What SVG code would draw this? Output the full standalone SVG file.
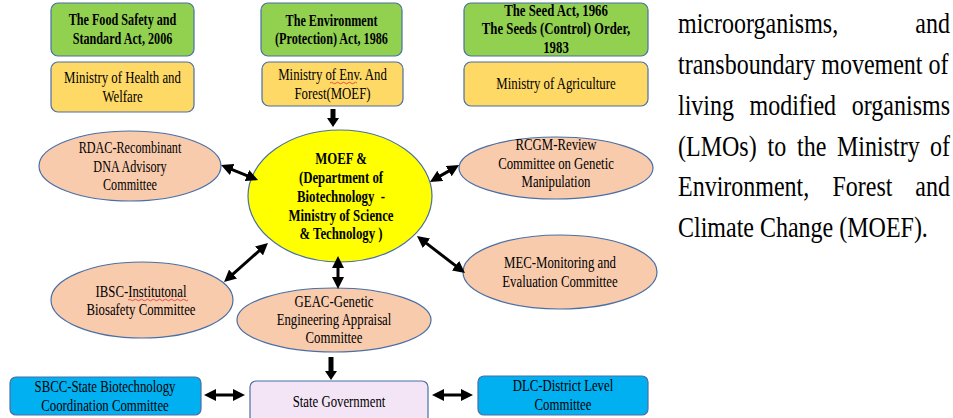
<svg xmlns="http://www.w3.org/2000/svg" width="953" height="418" viewBox="0 0 953 418">
<style>
.box{stroke:#4A6FA5;stroke-width:1.2}
.act{fill:#92D050}
.min{fill:#FFD966}
.com{fill:#F8CBAD;stroke:#4A6FA5;stroke-width:1.2}
.t{font-family:'Liberation Serif','Times New Roman','DejaVu Serif','Noto Serif',Times,serif;font-size:16px;fill:#000;text-anchor:middle}
.b{font-weight:bold}
.p{font-family:'Liberation Serif','Times New Roman','DejaVu Serif','Noto Serif',Times,serif;font-size:30px;fill:#000}
.arr{stroke:#000;stroke-width:3;fill:none}
.dn{stroke:#000;stroke-width:5;fill:none}
.sq{stroke:#E03030;stroke-width:0.8;fill:none}
</style>
<defs>
<marker id="ah" markerUnits="userSpaceOnUse" markerWidth="12" markerHeight="12" viewBox="0 0 12 12" refX="2" refY="6" orient="auto-start-reverse"><path d="M0,0 L12,6 L0,12 z" fill="#000"/></marker>
<marker id="dh" markerUnits="userSpaceOnUse" markerWidth="12" markerHeight="12" viewBox="0 0 9 12" refX="1" refY="6" orient="auto"><path d="M0,0 L9,6 L0,12 z" fill="#000"/></marker>
</defs>
<rect width="953" height="418" fill="#fff"/>

<g id="act-food">
<rect class="box act" x="51" y="3" width="143" height="53" rx="7"/>
<text class="t b" font-size="17" transform="translate(122.5 0) scale(0.76 1)"><tspan x="0" y="25">The Food Safety and</tspan><tspan x="0" y="44">Standard Act, 2006</tspan></text>
</g>
<g id="min-health">
<rect class="box min" x="51" y="62" width="143" height="50" rx="7"/>
<text class="t" transform="translate(122.5 0) scale(0.8 1)"><tspan x="0" y="83">Ministry of Health and</tspan><tspan x="0" y="102">Welfare</tspan></text>
</g>
<g id="act-env">
<rect class="box act" x="261" y="3" width="141" height="53" rx="7"/>
<text class="t b" font-size="17" transform="translate(331.5 0) scale(0.76 1)"><tspan x="0" y="26">The Environment</tspan><tspan x="0" y="44">(Protection) Act, 1986</tspan></text>
</g>
<g id="min-env">
<rect class="box min" x="262" y="62" width="141" height="44" rx="7"/>
<text class="t" transform="translate(332.5 0) scale(0.8 1)"><tspan x="0" y="80">Ministry of Env. And</tspan><tspan x="0" y="99">Forest(MOEF)</tspan></text>
<path class="sq" d="M330,83 q1.5,-1.5 3,0 t3,0 t3,0 t3,0 t3,0 t3,0 t3,0 t3,0 t3,0"/>
</g>
<g id="act-seed">
<rect class="box act" x="464" y="3" width="184" height="53" rx="7"/>
<text class="t b" font-size="15.5" transform="translate(556 0) scale(0.8 1)"><tspan x="0" y="16">The Seed Act, 1966</tspan><tspan x="0" y="34.5">The Seeds (Control) Order,</tspan><tspan x="0" y="53">1983</tspan></text>
</g>
<g id="min-agri">
<rect class="box min" x="464" y="62" width="184" height="44" rx="7"/>
<text class="t" transform="translate(556 0) scale(0.8 1)"><tspan x="0" y="89">Ministry of Agriculture</tspan></text>
</g>

<g id="moef">
<ellipse cx="340" cy="196" rx="92" ry="66" fill="#FFFF00" stroke="#4A6FA5" stroke-width="1.2"/>
<text class="t b" transform="translate(341 0) scale(0.8 1)"><tspan x="0" y="164">MOEF &amp;</tspan><tspan x="0" y="183">(Department of</tspan><tspan x="0" y="202">Biotechnology &#160;-</tspan><tspan x="0" y="221">Ministry of Science</tspan><tspan x="0" y="239">&amp; Technology )</tspan></text>
</g>
<g id="rdac">
<ellipse class="com" cx="130" cy="166" rx="91" ry="35"/>
<text class="t" transform="translate(130 0) scale(0.76 1)"><tspan x="0" y="153">RDAC-Recombinant</tspan><tspan x="0" y="172">DNA Advisory</tspan><tspan x="0" y="190">Committee</tspan></text>
</g>
<g id="rcgm">
<ellipse class="com" cx="556" cy="168" rx="97" ry="31"/>
<text class="t" transform="translate(556 0) scale(0.8 1)"><tspan x="0" y="150">RCGM-Review</tspan><tspan x="0" y="169">Committee on Genetic</tspan><tspan x="0" y="187">Manipulation</tspan></text>
</g>
<g id="ibsc">
<ellipse class="com" cx="142" cy="300" rx="91" ry="38"/>
<text class="t" transform="translate(141 0) scale(0.8 1)"><tspan x="0" y="297">IBSC-Institutonal</tspan><tspan x="0" y="315">Biosafety Committee</tspan></text>
<path class="sq" d="M128,300 q1.5,-1.5 3,0 t3,0 t3,0 t3,0 t3,0 t3,0 t3,0 t3,0 t3,0 t3,0 t3,0 t3,0 t3,0 t3,0 t3,0 t3,0 t3,0 t3,0 t3,0 t3,0"/>
</g>
<g id="mec">
<ellipse class="com" cx="560" cy="272" rx="97" ry="37"/>
<text class="t" transform="translate(560 0) scale(0.8 1)"><tspan x="0" y="268">MEC-Monitoring and</tspan><tspan x="0" y="287">Evaluation Committee</tspan></text>
</g>
<g id="geac">
<ellipse class="com" cx="334" cy="320" rx="97" ry="32"/>
<text class="t" transform="translate(334 0) scale(0.8 1)"><tspan x="0" y="307">GEAC-Genetic</tspan><tspan x="0" y="325">Engineering Appraisal</tspan><tspan x="0" y="343">Committee</tspan></text>
</g>

<g id="sbcc">
<rect class="box" fill="#00B0F0" x="10" y="377" width="191" height="38" rx="6"/>
<text class="t" transform="translate(105 0) scale(0.8 1)"><tspan x="0" y="392">SBCC-State Biotechnology</tspan><tspan x="0" y="411">Coordination Committee</tspan></text>
</g>
<g id="state">
<rect class="box" fill="#F4E5F6" x="250" y="381" width="178" height="42" rx="6"/>
<text class="t" transform="translate(339 0) scale(0.8 1)"><tspan x="0" y="407">State Government</tspan></text>
</g>
<g id="dlc">
<rect class="box" fill="#00B0F0" x="478" y="376" width="170" height="39" rx="6"/>
<text class="t" transform="translate(563 0) scale(0.8 1)"><tspan x="0" y="391">DLC-District Level</tspan><tspan x="0" y="410">Committee</tspan></text>
</g>

<g id="connectors">
<line class="dn" x1="333" y1="109" x2="333" y2="119" marker-end="url(#dh)"/>
<line class="dn" x1="331" y1="357" x2="331" y2="372" marker-end="url(#dh)"/>
<line class="arr" x1="230.3" y1="168.8" x2="248.8" y2="176.3" marker-start="url(#ah)" marker-end="url(#ah)"/>
<line class="arr" x1="438.6" y1="176.9" x2="450.4" y2="170.1" marker-start="url(#ah)" marker-end="url(#ah)"/>
<line class="arr" x1="260.5" y1="249.6" x2="231.5" y2="275.4" marker-start="url(#ah)" marker-end="url(#ah)"/>
<line class="arr" x1="424.9" y1="242.1" x2="457.1" y2="266.9" marker-start="url(#ah)" marker-end="url(#ah)"/>
<line class="arr" x1="338" y1="266" x2="338" y2="279" marker-start="url(#ah)" marker-end="url(#ah)"/>
<line class="arr" x1="214" y1="395" x2="235" y2="395" marker-start="url(#ah)" marker-end="url(#ah)"/>
<line class="arr" x1="442" y1="395" x2="463" y2="395" marker-start="url(#ah)" marker-end="url(#ah)"/>
</g>

<g id="paragraph" class="p">
<text transform="translate(678 33) scale(0.8 1)">microorganisms,</text>
<text transform="translate(950 33) scale(0.8 1)" text-anchor="end">and</text>
<text transform="translate(678 74) scale(0.8 1)">transboundary movement of</text>
<text transform="translate(678 115) scale(0.8 1)">living</text>
<text transform="translate(749.5 115) scale(0.8 1)">modified</text>
<text transform="translate(950 115) scale(0.8 1)" text-anchor="end">organisms</text>
<text transform="translate(678 156) scale(0.8 1)">(LMOs)</text>
<text transform="translate(767.5 156) scale(0.8 1)">to</text>
<text transform="translate(797 156) scale(0.8 1)">the</text>
<text transform="translate(837 156) scale(0.8 1)">Ministry</text>
<text transform="translate(950 156) scale(0.8 1)" text-anchor="end">of</text>
<text transform="translate(678 196) scale(0.8 1)">Environment,</text>
<text transform="translate(832.5 196) scale(0.8 1)">Forest</text>
<text transform="translate(950 196) scale(0.8 1)" text-anchor="end">and</text>
<text transform="translate(678 237) scale(0.8 1)">Climate Change (MOEF).</text>
</g>
</svg>
